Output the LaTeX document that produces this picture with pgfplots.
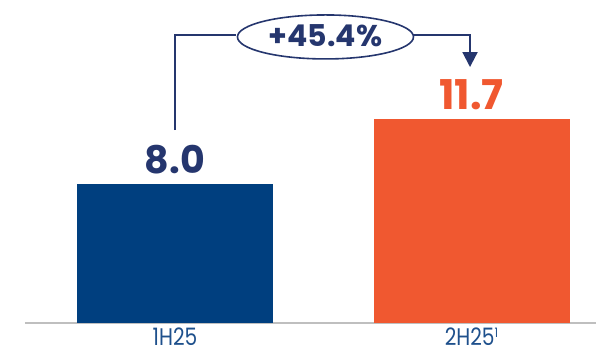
\documentclass[border=0pt]{standalone}
\usepackage{pgfplots}
\pgfplotsset{compat=1.18}
\usepackage{fontspec}
\setmainfont{Poppins}
\newfontfamily\lblfont[FakeStretch=0.84]{Poppins}
\usetikzlibrary{arrows.meta}
\definecolor{barblue}{RGB}{0,63,127}
\definecolor{barorange}{RGB}{240,88,48}
\definecolor{navy}{RGB}{37,54,110}
\definecolor{lblblue}{RGB}{30,80,140}
\begin{document}
\begin{tikzpicture}
\useasboundingbox (-175pt,-31pt) rectangle (421pt,323pt);
\begin{axis}[
  anchor=origin,
  x=296.5pt, y=17.4pt,
  xmin=-0.506, xmax=1.42, ymin=0, ymax=18.5,
  axis x line=bottom, axis y line=none,
  x axis line style={draw=black!25, line width=1.2pt, -},
  xtick={0,1}, xticklabels={1H25,{2H25\raisebox{7.5pt}{\fontsize{13}{13}\selectfont 1}}},
  major tick length=0pt,
  xticklabel style={font=\lblfont\fontsize{24}{24}\selectfont\color{lblblue}, anchor=base, yshift=-22pt, inner sep=0pt},
  ytick=\empty,
  ybar, bar width=196pt,
  clip=false,
]
\addplot[fill=barblue, draw=none, bar shift=0pt] coordinates {(0,8.0)};
\addplot[fill=barorange, draw=none, bar shift=0pt] coordinates {(1,11.7)};
\node[font=\bfseries\fontsize{38}{38}\selectfont, text=navy] at (axis cs:0,9.40) {8.0};
\node[font=\bfseries\fontsize{41}{41}\selectfont, text=barorange] at (axis cs:1,13.10) {11.7};
\draw[navy, line width=2pt] (axis cs:0,11.09) -- (axis cs:0,16.55) -- (axis cs:0.2058,16.55);
\draw[navy, line width=2pt, -{Triangle[length=15pt,width=15pt]}] (axis cs:0.7892,16.55) -- (axis cs:0.995,16.55) -- (axis cs:0.995,14.71);
\draw[navy, line width=1.6pt, fill=white] (axis cs:0.5075,16.44) ellipse (88pt and 22pt);
\node[font=\bfseries\fontsize{30}{30}\selectfont, text=navy] at (axis cs:0.5075,16.50) {+45.4\%};
\end{axis}
\end{tikzpicture}
\end{document}
